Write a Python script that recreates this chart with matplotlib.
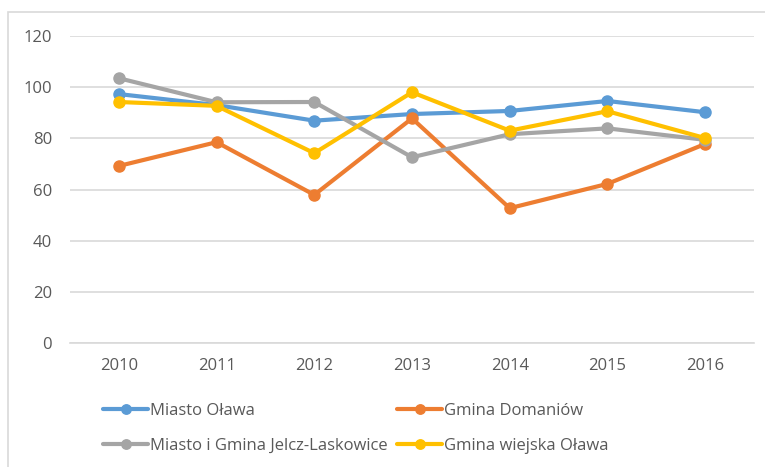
import matplotlib.pyplot as plt
from matplotlib.patches import Rectangle

plt.rcParams['font.family'] = ['Open Sans', 'DejaVu Sans']

# Dane
lata = ['2010', '2011', '2012', '2013', '2014', '2015', '2016']
miasto_olawa = [97.3, 93.0, 86.9, 89.5, 90.7, 94.6, 90.2]
gmina_domaniow = [69.2, 78.5, 57.9, 87.8, 52.7, 62.2, 77.8]
jelcz_laskowice = [103.5, 94.1, 94.2, 72.6, 81.6, 83.9, 79.4]
gmina_wiejska_olawa = [94.2, 92.7, 74.2, 98.0, 83.0, 90.6, 80.1]

serie = [
    ('Miasto Oława', miasto_olawa, '#5b9bd5'),
    ('Gmina Domaniów', gmina_domaniow, '#ed7d31'),
    ('Miasto i Gmina Jelcz-Laskowice', jelcz_laskowice, '#a5a5a5'),
    ('Gmina wiejska Oława', gmina_wiejska_olawa, '#ffc000'),
]

fig = plt.figure(figsize=(7.65, 4.67), dpi=100)
W, H = 765, 467
ax = fig.add_axes([70 / W, 1 - 343 / H, (754 - 70) / W, (343 - 36) / H])

x = range(len(lata))
linie = []
for nazwa, wart, kolor in serie:
    l, = ax.plot(x, wart, color=kolor, linewidth=3.0, marker='o', markersize=8,
                 label=nazwa, solid_capstyle='round')
    linie.append(l)

ax.set_xlim(-0.5, len(lata) - 0.5)
ax.set_ylim(0, 120)
ax.set_yticks(range(0, 121, 20))
ax.set_xticks(list(x))
ax.set_xticklabels(lata)
ax.grid(True, axis='y', color='#d9d9d9', linewidth=1.2)
ax.set_axisbelow(True)
for s in ['top', 'right', 'left']:
    ax.spines[s].set_visible(False)
ax.spines['bottom'].set_color('#d9d9d9')
ax.spines['bottom'].set_linewidth(1.2)
ax.tick_params(axis='both', length=0, colors='#595959', labelsize=12)
ax.tick_params(axis='y', pad=13)
ax.tick_params(axis='x', pad=11)

# Legenda w dwóch kolumnach (wierszami jak w Excelu)
kol1 = [linie[0], linie[2]]
kol2 = [linie[1], linie[3]]
opcje = dict(loc='upper left', frameon=False, fontsize=12, handlelength=2.7,
             handletextpad=0.1, labelspacing=1.15, borderaxespad=0, borderpad=0,
             markerscale=0.85)
for uchwyty, x0 in [(kol1, 103), (kol2, 397)]:
    leg = fig.legend(uchwyty, [h.get_label() for h in uchwyty],
                     bbox_to_anchor=(x0 / W, 1 - 403 / H), **opcje)
    for t in leg.get_texts():
        t.set_color('#595959')

# Ramka wykresu
fig.patches.append(Rectangle((8 / W, -0.1), 1.0, 1 - 12 / H + 0.1,
                             transform=fig.transFigure, fill=False,
                             edgecolor='#d9d9d9', linewidth=1.2))

fig.savefig('out.png', dpi=100)
